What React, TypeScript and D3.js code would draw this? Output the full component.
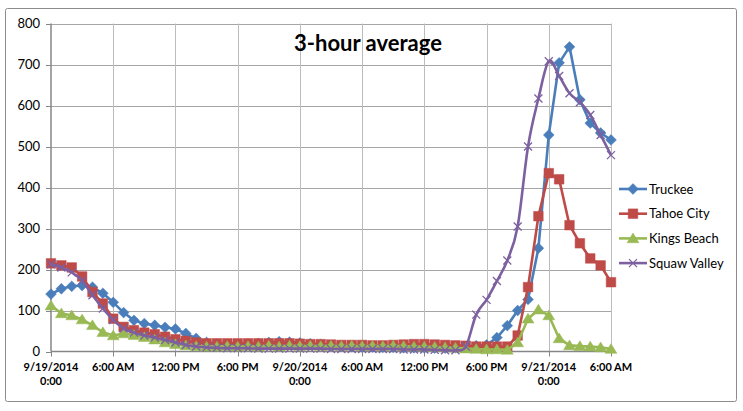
import { useEffect, useRef } from 'react';
import * as d3 from 'd3';

// hours since 9/19/2014 0:00, one value per hour (0..54)
const hours = d3.range(0, 55);

const truckee = [
  140, 153, 159, 161, 157, 142, 120, 95, 76, 68, 64, 59, 55, 44, 32, 22, 18, 16, 16, 18,
  20, 22, 24, 23, 21, 19, 17, 15, 13, 12, 11, 11, 10, 10, 9, 9, 9, 8, 8, 9,
  10, 14, 16, 34, 63, 100, 127, 252, 528, 704, 743, 614, 557, 533, 516,
];
const tahoeCity = [
  215, 210, 205, 183, 145, 117, 80, 60, 52, 46, 42, 36, 30, 26, 22, 20, 20, 20, 20, 20,
  20, 20, 20, 20, 19, 18, 18, 17, 16, 16, 16, 15, 15, 16, 17, 18, 18, 17, 16, 15,
  14, 12, 12, 12, 12, 39, 157, 330, 435, 420, 308, 264, 227, 210, 169,
];
const kingsBeach = [
  112, 93, 88, 78, 64, 47, 39, 44, 40, 35, 29, 22, 18, 15, 13, 12, 12, 13, 12, 13,
  12, 14, 12, 14, 13, 14, 13, 14, 13, 14, 13, 14, 13, 14, 13, 12, 12, 11, 10, 9,
  7, 6, 5, 5, 4, 22, 80, 102, 88, 32, 15, 13, 12, 10, 6,
];
const squawValley = [
  213, 205, 193, 173, 137, 105, 77, 56, 46, 39, 34, 28, 22, 16, 12, 10, 9, 8, 8, 8,
  7, 7, 7, 7, 7, 7, 7, 6, 6, 6, 6, 6, 6, 6, 5, 5, 5, 4, 3, 3,
  12, 90, 126, 172, 222, 305, 500, 617, 708, 672, 630, 608, 577, 528, 479,
];

const seriesNames = ['Truckee', 'Tahoe City', 'Kings Beach', 'Squaw Valley'];
const seriesValues = [truckee, tahoeCity, kingsBeach, squawValley];
const seriesColors = ['#4a7ebb', '#be4b48', '#98b954', '#7d60a0'];
const seriesMarkers = ['diamond', 'square', 'triangle', 'x'];
const seriesSmooth = [false, false, false, true];

const yTicks = [0, 100, 200, 300, 400, 500, 600, 700, 800];
const xTicks = [0, 6, 12, 18, 24, 30, 36, 42, 48, 54];
const xTickLabels = [
  ['9/19/2014', '0:00'], ['6:00 AM'], ['12:00 PM'], ['6:00 PM'],
  ['9/20/2014', '0:00'], ['6:00 AM'], ['12:00 PM'], ['6:00 PM'],
  ['9/21/2014', '0:00'], ['6:00 AM'],
];

const FONT = 'Lato, "Open Sans", sans-serif';

function markerPath(kind: string, r: number) {
  if (kind === 'diamond') return `M0,${-r}L${r},0L0,${r}L${-r},0Z`;
  if (kind === 'square') return `M${-r},${-r}H${r}V${r}H${-r}Z`;
  if (kind === 'triangle') return `M0,${-r}L${r * 1.1},${r * 0.8}L${-r * 1.1},${r * 0.8}Z`;
  return `M${-r},${-r}L${r},${r}M${-r},${r}L${r},${-r}`;
}

function markerSize(kind: string) {
  if (kind === 'x') return 4;
  if (kind === 'square') return 4.8;
  return 5.4;
}

export default function App() {
  const svgRef = useRef<SVGSVGElement>(null);

  useEffect(() => {
    const svg = d3.select(svgRef.current);
    svg.selectAll('*').remove();

    const W = 743, H = 411;
    const left = 51, right = 611, top = 23.5, bottom = 351.5;

    svg.attr('width', W).attr('height', H);

    svg.append('rect').attr('width', W).attr('height', H).attr('fill', '#fff');
    svg.append('rect')
      .attr('x', 5.5).attr('y', 8.5).attr('width', 731).attr('height', 393)
      .attr('fill', 'none').attr('stroke', '#8c8c8c').attr('rx', 2);

    const x = d3.scaleLinear().domain([0, 54]).range([left, right]);
    const y = d3.scaleLinear().domain([0, 800]).range([bottom, top]);

    // gridlines
    svg.append('g').selectAll('line').data(yTicks.slice(1)).join('line')
      .attr('x1', left).attr('x2', right)
      .attr('y1', d => Math.round(y(d)) + 0.5).attr('y2', d => Math.round(y(d)) + 0.5)
      .attr('stroke', '#a6a6a6');
    svg.append('g').selectAll('line').data(xTicks.slice(1)).join('line')
      .attr('x1', d => Math.round(x(d)) + 0.5).attr('x2', d => Math.round(x(d)) + 0.5)
      .attr('y1', top).attr('y2', bottom)
      .attr('stroke', '#bcbcbc');

    // axes
    svg.append('line').attr('x1', left).attr('x2', left).attr('y1', top).attr('y2', bottom)
      .attr('stroke', '#868686').attr('stroke-width', 1.5);
    svg.append('line').attr('x1', left).attr('x2', right).attr('y1', bottom).attr('y2', bottom)
      .attr('stroke', '#868686').attr('stroke-width', 1.5);
    svg.append('g').selectAll('line').data(yTicks).join('line')
      .attr('x1', left - 5).attr('x2', left)
      .attr('y1', d => Math.round(y(d)) + 0.5).attr('y2', d => Math.round(y(d)) + 0.5)
      .attr('stroke', '#868686');
    svg.append('g').selectAll('line').data(xTicks).join('line')
      .attr('x1', d => Math.round(x(d)) + 0.5).attr('x2', d => Math.round(x(d)) + 0.5)
      .attr('y1', bottom).attr('y2', bottom + 5)
      .attr('stroke', '#868686');

    svg.append('g').selectAll('text').data(yTicks).join('text')
      .attr('x', 40).attr('y', d => y(d)).attr('dy', '0.35em')
      .attr('text-anchor', 'end').attr('font-family', FONT).attr('font-size', 13)
      .attr('fill', '#000').text(d => d);

    xTicks.forEach((t, i) => {
      const txt = svg.append('text')
        .attr('x', x(t)).attr('y', 371)
        .attr('text-anchor', 'middle').attr('font-family', FONT).attr('font-size', 11)
        .attr('font-weight', 'bold').attr('fill', '#000');
      xTickLabels[i].forEach((s, j) => {
        txt.append('tspan').attr('x', x(t)).attr('dy', j === 0 ? 0 : 14).text(s);
      });
    });

    // series
    seriesValues.forEach((vals, si) => {
      const color = seriesColors[si];
      const line = d3.line<number>()
        .x((_, i) => x(hours[i]))
        .y(d => y(d))
        .curve(seriesSmooth[si] ? d3.curveCatmullRom.alpha(0) : d3.curveLinear);
      const g = svg.append('g');
      g.append('path').datum(vals).attr('d', line)
        .attr('fill', 'none').attr('stroke', color).attr('stroke-width', 2.6)
        .attr('stroke-linejoin', 'round');
      const kind = seriesMarkers[si];
      g.selectAll('path.m').data(vals).join('path')
        .attr('class', 'm')
        .attr('transform', (d, i) => `translate(${x(hours[i])},${y(d)})`)
        .attr('d', markerPath(kind, markerSize(kind)))
        .attr('fill', kind === 'x' ? 'none' : color)
        .attr('stroke', color)
        .attr('stroke-width', kind === 'x' ? 1.3 : 0.5);
    });

    // title
    svg.append('text').attr('x', 368).attr('y', 51)
      .attr('text-anchor', 'middle').attr('font-family', FONT).attr('font-size', 22)
      .attr('font-weight', 'bold').attr('fill', '#000').text('3-hour average');

    // legend
    seriesNames.forEach((name, si) => {
      const ly = 189 + si * 24.7;
      const g = svg.append('g');
      g.append('line').attr('x1', 619).attr('x2', 647).attr('y1', ly).attr('y2', ly)
        .attr('stroke', seriesColors[si]).attr('stroke-width', 2.6);
      const kind = seriesMarkers[si];
      g.append('path').attr('transform', `translate(633,${ly})`)
        .attr('d', markerPath(kind, markerSize(kind)))
        .attr('fill', kind === 'x' ? 'none' : seriesColors[si])
        .attr('stroke', seriesColors[si]).attr('stroke-width', kind === 'x' ? 1.3 : 0.5);
      g.append('text').attr('x', 649).attr('y', ly).attr('dy', '0.35em')
        .attr('font-family', FONT).attr('font-size', 13).attr('fill', '#000').text(name);
    });
  }, []);

  return (
    <div style={{ position: 'absolute', left: 0, top: 0 }}>
      <svg ref={svgRef} style={{ display: 'block' }} />
    </div>
  );
}
